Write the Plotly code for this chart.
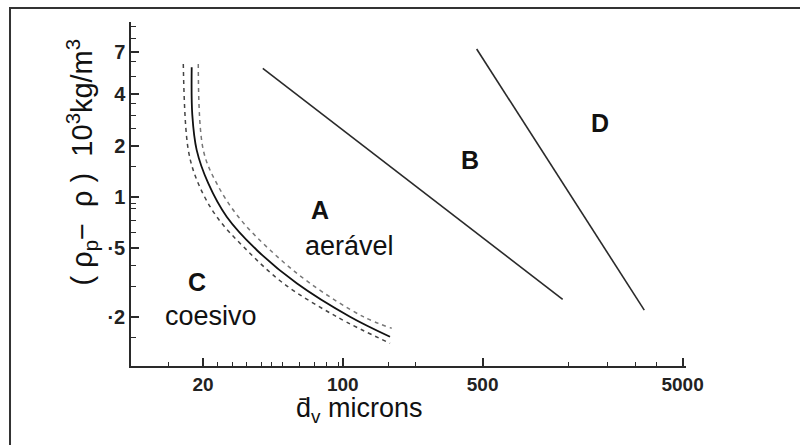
import math
import plotly.graph_objects as go

# Geldart-type powder classification: particle size vs density difference
# Boundary A/B (aerável -> bubbling)
ab_x = [39.8, 1257]
ab_y = [5.66, 0.252]
# Boundary B/D
bd_x = [467, 3217]
bd_y = [7.34, 0.218]
# Boundary C/A (mean curve and its two dashed limits)
ca_x = [17.56, 17.68, 18.60, 21.26, 26.27, 37.11, 58.82, 108.6, 172.2]
ca_y = [5.74, 3.02, 1.88, 1.20, 0.767, 0.490, 0.313, 0.1995, 0.1524]
ca_lo_x = [15.94, 16.89, 18.94, 23.42, 33.07, 50.41, 93.23, 172.2]
ca_lo_y = [6.0, 1.88, 1.20, 0.767, 0.490, 0.313, 0.1995, 0.1394]
ca_hi_x = [18.94, 20.07, 23.42, 30.03, 43.25, 68.55, 126.6, 175.6]
ca_hi_y = [6.0, 1.88, 1.20, 0.767, 0.490, 0.313, 0.1995, 0.1707]

# Axis ticks
x_tickvals = [20, 100, 500, 5000]
x_ticktext = ["20", "100", "500", "5000"]
x_minor = [13.5, 23.5, 28, 33, 39, 44, 50, 61, 72, 83, 95, 170, 230, 1350, 2100, 2900, 3700]
y_tickvals = [7, 4, 2, 1, 0.5, 0.2]
y_ticktext = ["7", "4", "2", "1", "·5", "·2"]
y_minor = [10, 8.4, 6.2, 5.1, 3.5, 3.0, 2.5, 1.5, 0.92, 0.86, 0.73, 0.62, 0.4, 0.3, 0.15]

# Region labels (text, size in microns, density difference, bold, font size)
region_labels = [
    ("A", 76.9, 0.839, True, 25),
    ("aerável", 107.4, 0.517, False, 27),
    ("B", 432.5, 1.646, True, 25),
    ("D", 1932, 2.708, True, 25),
    ("C", 18.66, 0.318, True, 25),
    ("coesivo", 21.9, 0.2014, False, 27),
]

INK = "#2a2a2a"
FONT = "Liberation Sans, Arial, sans-serif"

fig = go.Figure()
fig.add_trace(go.Scatter(x=ab_x, y=ab_y, mode="lines",
                         line=dict(color=INK, width=1.6)))
fig.add_trace(go.Scatter(x=bd_x, y=bd_y, mode="lines",
                         line=dict(color=INK, width=1.6)))
fig.add_trace(go.Scatter(x=ca_lo_x, y=ca_lo_y, mode="lines",
                         line=dict(color="#444", width=1.5, dash="4px,4px", shape="spline")))
fig.add_trace(go.Scatter(x=ca_hi_x, y=ca_hi_y, mode="lines",
                         line=dict(color="#777", width=1.5, dash="4px,4px", shape="spline")))
fig.add_trace(go.Scatter(x=ca_x, y=ca_y, mode="lines",
                         line=dict(color="#111", width=1.8, shape="spline")))

# annotations on log axes take log10 coordinates
for text, x, y, bold, size in region_labels:
    fig.add_annotation(x=math.log10(x), y=math.log10(y), xref="x", yref="y",
                       xanchor="center", yanchor="middle", showarrow=False,
                       text=f"<b>{text}</b>" if bold else text,
                       font=dict(family=FONT, size=size, color="#111"))

# axis titles
fig.add_annotation(x=0.4126, y=-0.128, xref="paper", yref="paper",
                   xanchor="center", yanchor="middle",
                   showarrow=False, text="d̄<sub>v</sub> microns",
                   font=dict(family=FONT, size=27, color="#111"))
fig.add_annotation(x=-0.088, y=0.592, xref="paper", yref="paper",
                   xanchor="center", yanchor="middle",
                   showarrow=False, textangle=-90,
                   text="( ρ<sub>p</sub>−  ρ )  10<sup>3</sup>kg/m<sup>3</sup>",
                   font=dict(family=FONT, size=29, color="#111"))

# outer frame
fig.add_shape(type="rect", xref="paper", yref="paper",
              x0=-0.218, y0=-1.0, x1=2.0, y1=1.0407,
              line=dict(color="#333", width=2))

fig.update_xaxes(
    type="log", range=[0.941, 3.716],
    showline=True, linecolor=INK, linewidth=1.5, mirror=False,
    showgrid=False, zeroline=False,
    ticks="inside", ticklen=8, tickwidth=1.5, tickcolor=INK,
    tickvals=x_tickvals, ticktext=[f"<b>{t}</b>" for t in x_ticktext],
    tickfont=dict(family=FONT, size=19, color="#222"),
    minor=dict(tickvals=x_minor, ticks="inside", ticklen=4, tickwidth=1.2,
               tickcolor=INK, showgrid=False),
)
fig.update_yaxes(
    type="log", range=[-0.9883, 1.0234],
    showline=True, linecolor=INK, linewidth=1.5, mirror=False,
    showgrid=False, zeroline=False,
    ticks="inside", ticklen=8, tickwidth=1.5, tickcolor=INK,
    tickvals=y_tickvals, ticktext=[f"<b>{t}</b>" for t in y_ticktext],
    tickfont=dict(family=FONT, size=20, color="#222"),
    minor=dict(tickvals=y_minor, ticks="inside", ticklen=5, tickwidth=1.2,
               tickcolor=INK, showgrid=False),
)

fig.update_layout(
    width=800, height=445,
    margin=dict(l=131, r=114, t=22, b=79),
    paper_bgcolor="white", plot_bgcolor="white",
    showlegend=False,
)

fig.write_html("out.html")
